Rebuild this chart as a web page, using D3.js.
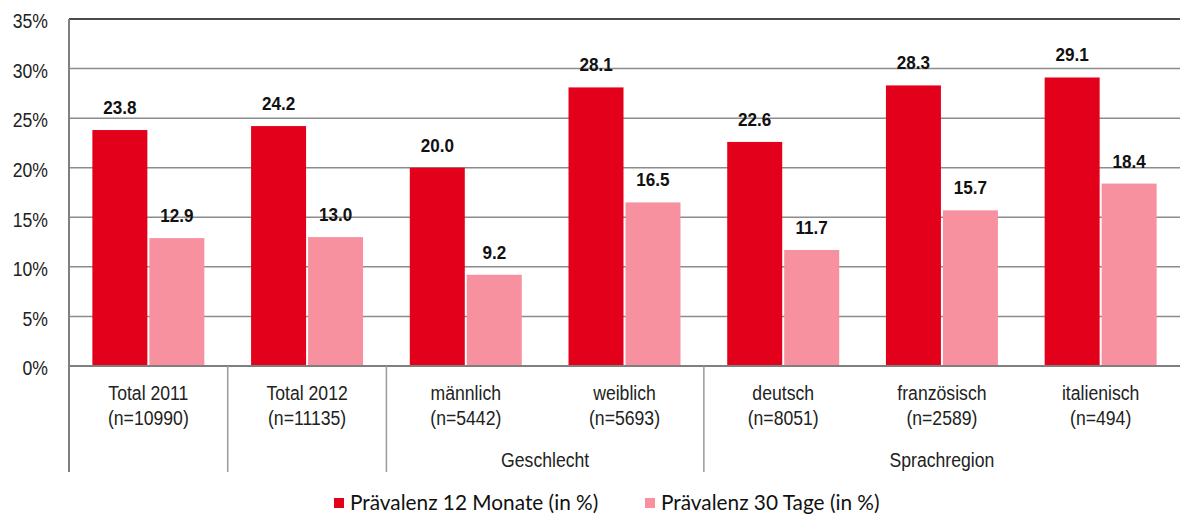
<!DOCTYPE html>
<html><head><meta charset="utf-8">
<script src="https://cdn.jsdelivr.net/npm/d3@7"></script>
<style>
body{margin:0;background:#fff;}
svg{display:block;}
</style></head>
<body>
<svg id="chart" width="1181" height="517"></svg>
<script>
const categories = ["Total 2011","Total 2012","männlich","weiblich","deutsch","französisch","italienisch"];
const sampleSizes = ["(n=10990)","(n=11135)","(n=5442)","(n=5693)","(n=8051)","(n=2589)","(n=494)"];
const groupLabels = [{label:"Geschlecht", from:2, to:3},{label:"Sprachregion", from:4, to:6}];
const dividerIndices = [1,2,4];
const seriesNames = ["Prävalenz 12 Monate (in %)","Prävalenz 30 Tage (in %)"];
const prev12 = [23.8,24.2,20.0,28.1,22.6,28.3,29.1];
const prev30 = [12.9,13.0,9.2,16.5,11.7,15.7,18.4];
const yTicks = [0,5,10,15,20,25,30,35];
const colors = ["#E2001A","#F7919F"];

const svg = d3.select("#chart");
const mLeft = 69, mRight = 1180, mTop = 19, mBottom = 366;
const sans = "'Liberation Sans',Arial,sans-serif";
const SX = 0.84;   // horizontal compression for a narrow look
const SXB = 0.9;

const x = d3.scaleBand().domain(d3.range(categories.length)).range([mLeft, mRight]).paddingInner(0).paddingOuter(0);
const xs = d3.scaleBand().domain([0,1]).range([0, x.bandwidth()]).paddingInner(0.035).paddingOuter(0.41);
const y = d3.scaleLinear().domain([0,35]).range([mBottom, mTop]);

function narrowText(sel, px, py, sx){
  sel.attr("x",0).attr("y",0).attr("transform",(d,i)=>`translate(${px(d,i)},${py(d,i)}) scale(${sx},1)`);
}

// gridlines
svg.append("g").selectAll("line").data(yTicks.filter(t=>t>0)).join("line")
  .attr("x1", mLeft).attr("x2", mRight)
  .attr("y1", d=>y(d)).attr("y2", d=>y(d))
  .attr("stroke", d=> d===35 ? "#111" : "#8c8c8c")
  .attr("stroke-width", 1.5);

// y axis labels
const yAxis = d3.axisLeft(y).tickValues(yTicks).tickFormat(d=>d+"%").tickSize(0).tickPadding(0);
const ya = svg.append("g").attr("transform", `translate(${mLeft},0)`).call(yAxis);
ya.select(".domain").remove();
ya.selectAll("text").attr("font-family", sans).attr("font-size", 21).attr("fill","#222")
  .attr("x", -21/SX).attr("dy","0.42em").attr("transform",`scale(${SX},1)`);

// bars
const series = [prev12, prev30];
series.forEach((vals, si) => {
  svg.append("g").selectAll("rect").data(vals).join("rect")
    .attr("x", (d,i)=> x(i) + xs(si))
    .attr("width", xs.bandwidth())
    .attr("y", d=> y(d))
    .attr("height", d=> mBottom - y(d))
    .attr("fill", colors[si]);
  svg.append("g").selectAll("text").data(vals).join("text")
    .call(narrowText, (d,i)=> x(i) + xs(si) + xs.bandwidth()/2, d=> y(d) - 16, SXB)
    .attr("text-anchor","middle")
    .attr("font-family", sans).attr("font-weight","bold").attr("font-size", 19)
    .attr("fill","#111")
    .text(d=> d.toFixed(1));
});

// left axis line
svg.append("line").attr("x1", mLeft).attr("x2", mLeft).attr("y1", mTop).attr("y2", 472)
  .attr("stroke","#7f7f7f").attr("stroke-width",2);
// baseline
svg.append("line").attr("x1", mLeft).attr("x2", mRight).attr("y1", mBottom).attr("y2", mBottom)
  .attr("stroke","#7f7f7f").attr("stroke-width",2);

// dividers
svg.append("g").selectAll("line").data(dividerIndices).join("line")
  .attr("x1", i=> x(i)).attr("x2", i=> x(i))
  .attr("y1", mBottom).attr("y2", 472)
  .attr("stroke","#9a9a9a").attr("stroke-width",1.5);

// category labels
const cat = svg.append("g");
cat.selectAll("text.c").data(categories).join("text").attr("class","c")
  .call(narrowText, (d,i)=> x(i)+x.bandwidth()/2, ()=>400, SX)
  .attr("text-anchor","middle").attr("font-family",sans).attr("font-size",21).attr("fill","#222")
  .text(d=>d);
cat.selectAll("text.n").data(sampleSizes).join("text").attr("class","n")
  .call(narrowText, (d,i)=> x(i)+x.bandwidth()/2, ()=>425, SX)
  .attr("text-anchor","middle").attr("font-family",sans).attr("font-size",21).attr("fill","#222")
  .text(d=>d);
cat.selectAll("text.g").data(groupLabels).join("text").attr("class","g")
  .call(narrowText, d=> (x(d.from) + x(d.to) + x.bandwidth())/2, ()=>467, SX)
  .attr("text-anchor","middle").attr("font-family",sans).attr("font-size",21).attr("fill","#222")
  .text(d=>d.label);

// legend
const legendX = [334, 645];
const lg = svg.append("g");
seriesNames.forEach((name, i) => {
  lg.append("rect").attr("x", legendX[i]).attr("y", 498).attr("width",10).attr("height",10).attr("fill",colors[i]);
  lg.append("text").attr("x", legendX[i]+16).attr("y", 510)
    .attr("font-family","Lato,'Open Sans',sans-serif").attr("font-size",20.8).attr("fill","#111")
    .text(name);
});
</script>
</body></html>
